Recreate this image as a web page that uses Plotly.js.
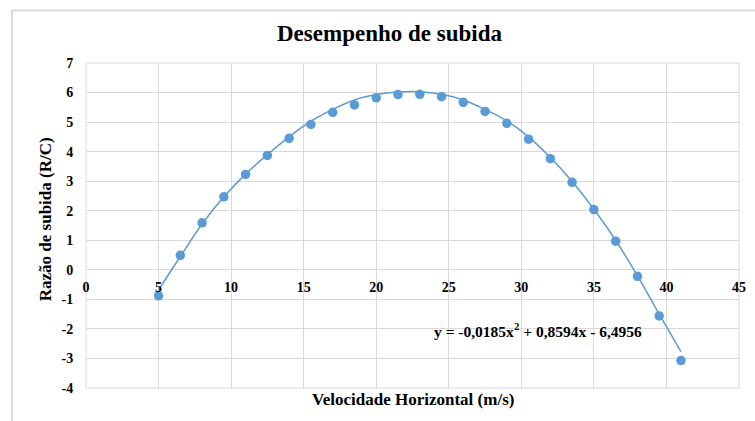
<!DOCTYPE html>
<html>
<head>
<meta charset="utf-8">
<script src="https://cdn.plot.ly/plotly-3.0.1.min.js"></script>
<style>html,body{margin:0;padding:0;background:#fff;}#chart{width:755px;height:421px;}</style>
</head>
<body>
<div id="chart"></div>
<script>
// Measured data points (velocity m/s, climb rate R/C)
var velocidade = [5, 6.5, 8, 9.5, 11, 12.5, 14, 15.5, 17, 18.5, 20, 21.5, 23, 24.5, 26, 27.5, 29, 30.5, 32, 33.5, 35, 36.5, 38, 39.5, 41];
var razaoSubida = [-0.88, 0.49, 1.59, 2.47, 3.23, 3.87, 4.45, 4.92, 5.33, 5.58, 5.82, 5.93, 5.94, 5.86, 5.67, 5.36, 4.96, 4.42, 3.76, 2.96, 2.04, 0.97, -0.22, -1.56, -3.07];

// Trendline
var trendX = [5, 6.5, 8, 9.5, 11, 12.5, 14, 15.5, 17, 18.5, 20, 21.5, 23, 24.5, 26, 27.5, 29, 30.5, 32, 33.5, 35, 36.5, 38, 39.5, 41];
var trendY = [-0.68, 0.45, 1.55, 2.47, 3.24, 3.9, 4.5, 5.03, 5.43, 5.75, 5.93, 6.02, 6.03, 5.94, 5.75, 5.43, 5.04, 4.5, 3.8, 2.99, 2.05, 1.0, -0.2, -1.5, -2.77];

var xTicks = [0, 5, 10, 15, 20, 25, 30, 35, 40, 45];
var yTicks = [-4, -3, -2, -1, 0, 1, 2, 3, 4, 5, 6, 7];

var chartTitle = "Desempenho de subida";
var xTitle = "Velocidade Horizontal (m/s)";
var yTitle = "Razão de subida (R/C)";
var equation = "y = -0,0185x<sup>2</sup> + 0,8594x - 6,4956";

var blue = "#5B9BD5";
var grid = "#d9d9d9";
var serif = "Liberation Serif";

var traces = [
  {x: trendX, y: trendY, mode: "lines", type: "scatter", line: {color: blue, width: 1.5, shape: "spline"}, hoverinfo: "skip"},
  {x: velocidade, y: razaoSubida, mode: "markers", type: "scatter", marker: {color: blue, size: 9.5}}
];

var layout = {
  width: 755, height: 421,
  margin: {l: 85.5, r: 15.7, t: 63.3, b: 32.7},
  paper_bgcolor: "#fff", plot_bgcolor: "#fff",
  showlegend: false,
  font: {family: serif, color: "#000"},
  xaxis: {
    range: [0, 45], tickvals: xTicks, ticktext: xTicks.map(String),
    showgrid: true, gridcolor: grid, gridwidth: 1, zeroline: false, showline: false,
    anchor: "free", position: 4 / 11,
    ticks: "outside", ticklen: 4, tickcolor: "rgba(0,0,0,0)",
    tickfont: {family: serif, size: 14, color: "#000", weight: "bold"}
  },
  yaxis: {
    range: [-4, 7], tickvals: yTicks, ticktext: yTicks.map(String),
    showgrid: true, gridcolor: grid, gridwidth: 1, zeroline: true, zerolinecolor: grid, zerolinewidth: 1, showline: false,
    ticks: "outside", ticklen: 9, tickcolor: "rgba(0,0,0,0)",
    tickfont: {family: serif, size: 14, color: "#000", weight: "bold"}
  },
  shapes: [
    {type: "rect", xref: "paper", yref: "paper", x0: 0, x1: 1, y0: 0, y1: 1, line: {color: grid, width: 1}, layer: "below"},
    {type: "rect", xref: "paper", yref: "paper", x0: -0.1132, x1: 1.04, y0: -0.12, y1: 1.1618, line: {color: grid, width: 2}, layer: "below"}
  ],
  annotations: [
    {text: "<b>" + chartTitle + "</b>", xref: "paper", yref: "paper", x: (389 - 85.5) / 653.8, y: (388.3 - 34) / 325, xanchor: "center", yanchor: "middle", showarrow: false, font: {family: serif, size: 23, color: "#000"}},
    {text: "<b>" + xTitle + "</b>", xref: "paper", yref: "paper", x: (413 - 85.5) / 653.8, y: (388.3 - 400) / 325, xanchor: "center", yanchor: "middle", showarrow: false, font: {family: serif, size: 17, color: "#000"}},
    {text: "<b>" + yTitle + "</b>", xref: "paper", yref: "paper", x: (45 - 85.5) / 653.8, y: (388.3 - 220) / 325, xanchor: "center", yanchor: "middle", textangle: -90, showarrow: false, font: {family: serif, size: 17, color: "#000"}},
    {text: "<b>" + equation + "</b>", xref: "paper", yref: "paper", x: (538.5 - 85.5) / 653.8, y: (388.3 - 330.7) / 325, xanchor: "center", yanchor: "middle", showarrow: false, font: {family: serif, size: 15.5, color: "#000"}}
  ]
};

Plotly.newPlot("chart", traces, layout, {displayModeBar: false, staticPlot: true});
</script>
</body>
</html>
